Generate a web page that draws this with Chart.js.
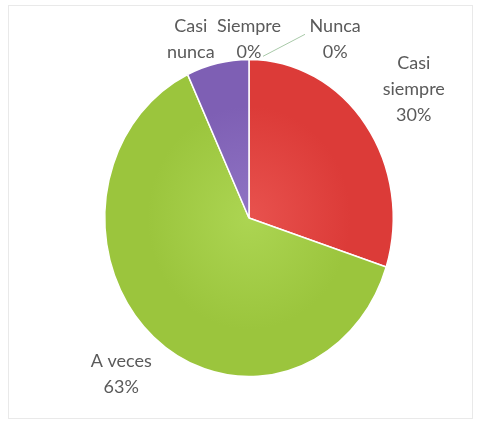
<!DOCTYPE html>
<html>
<head>
<meta charset="utf-8">
<script src="https://cdn.jsdelivr.net/npm/chart.js@4"></script>
<style>
  html, body { margin: 0; padding: 0; background: #fff; }
  #wrap { width: 477px; height: 430px; position: relative; }
</style>
</head>
<body>
<div id="wrap"><canvas id="pieChart" width="477" height="430"></canvas></div>
<script>
// datos
const categorias = ['Siempre', 'Casi siempre', 'A veces', 'Casi nunca', 'Nunca'];
const valores = [0, 30, 63, 7, 0];
const etiquetas = [['Siempre', '0%'], ['Casi', 'siempre', '30%'], ['A veces', '63%'], ['Casi', 'nunca'], ['Nunca', '0%']];
const colores = ['#4a7ebb', '#dc3b38', '#9bc53d', '#7e5fb4', '#3fb0c9'];
const coloresClaros = ['#6f9bd4', '#e8524e', '#acd552', '#9074c4', '#63c4da'];

// ajustes de posición de las etiquetas (grados extra, factor de radio)
const giroEtiqueta = [0, 0.5, 0.6, -7.1, 27.9];
const radioEtiqueta = [1.128, 1.403, 1.324, 1.198, 1.276];
const escalaY = 1.10; // el pastel original es algo ovalado

const ctx = document.getElementById('pieChart').getContext('2d');

const marco = {
    id: 'marco',
    beforeDraw(chart) {
        const c = chart.ctx;
        c.save();
        c.strokeStyle = '#e9e9e9';
        c.lineWidth = 1;
        c.strokeRect(8.5, 5.5, 464, 413);
        c.restore();
    }
};

const ovalo = {
    id: 'ovalo',
    beforeDatasetsDraw(chart) {
        const arc = chart.getDatasetMeta(0).data[0];
        const c = chart.ctx;
        c.save();
        c.translate(arc.x, arc.y);
        c.scale(1, escalaY);
        c.translate(-arc.x, -arc.y);
    },
    afterDatasetsDraw(chart) {
        chart.ctx.restore();
    }
};

const textos = {
    id: 'textos',
    afterDraw(chart) {
        const c = chart.ctx;
        const meta = chart.getDatasetMeta(0);
        c.save();
        c.font = '18px Lato, "Open Sans", sans-serif';
        c.fillStyle = '#5a5a5a';
        c.textAlign = 'center';
        c.textBaseline = 'middle';
        meta.data.forEach((arc, i) => {
            const mid = (arc.startAngle + arc.endAngle) / 2 + giroEtiqueta[i] * Math.PI / 180;
            const r = arc.outerRadius * radioEtiqueta[i];
            const x = arc.x + Math.cos(mid) * r;
            const y = arc.y + Math.sin(mid) * r * escalaY;
            const lineas = etiquetas[i];
            const alto = 26;
            lineas.forEach((t, k) => {
                c.fillText(t, x, y + (k - (lineas.length - 1) / 2) * alto);
            });
        });
        // línea guía de "Nunca"
        const a = meta.data[4];
        c.strokeStyle = '#a8c9a8';
        c.lineWidth = 1;
        c.beginPath();
        c.moveTo(a.x + 14, a.y - a.outerRadius * escalaY - 3);
        c.lineTo(a.x + 56, a.y - a.outerRadius * escalaY - 25);
        c.stroke();
        c.restore();
    }
};

function relleno(context) {
    const i = context.dataIndex;
    const area = context.chart.chartArea;
    if (!area) return colores[i];
    const cx = (area.left + area.right) / 2;
    const cy = (area.top + area.bottom) / 2;
    const r = Math.min(area.right - area.left, area.bottom - area.top) / 2;
    const g = context.chart.ctx.createRadialGradient(cx, cy, 0, cx, cy, r);
    g.addColorStop(0, coloresClaros[i]);
    g.addColorStop(0.7, colores[i]);
    g.addColorStop(1, colores[i]);
    return g;
}

const chart = new Chart(ctx, {
    type: 'pie',
    data: {
        labels: categorias,
        datasets: [{
            data: valores,
            backgroundColor: relleno,
            borderColor: '#ffffff',
            borderWidth: 1.5
        }]
    },
    options: {
        responsive: false,
        animation: false,
        layout: { padding: { left: 104, right: 83, top: 73, bottom: 67 } },
        plugins: {
            legend: { display: false },
            tooltip: { enabled: false }
        }
    },
    plugins: [marco, ovalo, textos]
});
</script>
</body>
</html>
